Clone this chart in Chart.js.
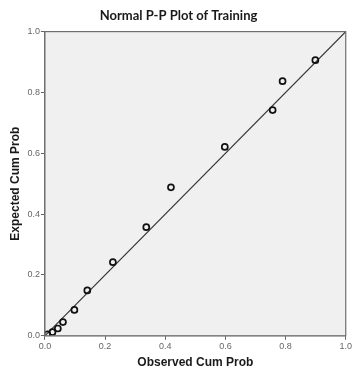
<!DOCTYPE html>
<html>
<head>
<meta charset="utf-8">
<script src="https://cdn.jsdelivr.net/npm/chart.js@4/dist/chart.umd.min.js"></script>
<style>
  html, body { margin: 0; padding: 0; background: #ffffff; }
  #wrap { width: 353px; height: 371px; position: relative; }
</style>
</head>
<body>
<div id="wrap"><canvas id="pp"></canvas></div>
<script>
// Observed vs expected cumulative probabilities
const observedCumProb = [0.008, 0.025, 0.043, 0.060, 0.098, 0.141, 0.226, 0.337, 0.419, 0.598, 0.757, 0.790, 0.899];
const expectedCumProb = [0.005, 0.012, 0.024, 0.045, 0.085, 0.149, 0.242, 0.357, 0.488, 0.621, 0.742, 0.837, 0.906];
// Reference diagonal
const diagonalX = [0, 1];
const diagonalY = [0, 1];
const tickValues = [0, 0.2, 0.4, 0.6, 0.8, 1.0];

const points = observedCumProb.map((x, i) => ({ x: x, y: expectedCumProb[i] }));
const diagonal = diagonalX.map((x, i) => ({ x: x, y: diagonalY[i] }));

// Gray plot panel with a frame on all four sides
const panel = {
  id: 'panel',
  beforeDatasetsDraw(chart) {
    const { ctx, chartArea: a } = chart;
    ctx.save();
    ctx.fillStyle = '#f0f0f0';
    ctx.fillRect(a.left, a.top, a.right - a.left, a.bottom - a.top);
    ctx.restore();
  },
  afterDraw(chart) {
    const { ctx, chartArea: a } = chart;
    ctx.save();
    ctx.strokeStyle = '#6e6e6e';
    ctx.lineWidth = 1.2;
    ctx.strokeRect(a.left, a.top, a.right - a.left, a.bottom - a.top);
    ctx.restore();
  }
};

const tickFont = { family: 'Liberation Sans, Arial, sans-serif', size: 9 };
const titleFont = { family: 'Liberation Sans, Arial, sans-serif', size: 12, weight: 'bold' };

new Chart(document.getElementById('pp'), {
  type: 'scatter',
  data: {
    datasets: [
      {
        label: 'Diagonal',
        data: diagonal,
        showLine: true,
        borderColor: '#333333',
        borderWidth: 1.2,
        pointRadius: 0,
        order: 2
      },
      {
        label: 'Training',
        data: points,
        borderColor: '#111111',
        backgroundColor: 'rgba(0,0,0,0)',
        borderWidth: 1.7,
        pointRadius: 3,
        order: 1
      }
    ]
  },
  options: {
    responsive: true,
    maintainAspectRatio: false,
    animation: false,
    layout: { padding: { left: 8, right: 4, top: 4, bottom: 1 } },
    plugins: {
      legend: { display: false },
      tooltip: { enabled: false },
      title: {
        display: true,
        text: 'Normal P-P Plot of Training',
        color: '#1a1a1a',
        font: { family: 'Lato, sans-serif', size: 13, weight: 'bold' },
        padding: { top: 4, bottom: 8 }
      }
    },
    scales: {
      x: {
        type: 'linear',
        min: 0, max: 1,
        afterBuildTicks(scale) { scale.ticks = tickValues.map(v => ({ value: v })); },
        ticks: {
          color: '#666666',
          font: tickFont,
          padding: 1,
          maxRotation: 0,
          callback: v => Number(v).toFixed(1)
        },
        grid: { drawOnChartArea: false, drawTicks: true, tickLength: 4, color: '#666666', lineWidth: 1 },
        border: { display: true, color: '#666666', width: 1.2 },
        title: { display: true, text: 'Observed Cum Prob', color: '#1a1a1a', font: titleFont, padding: { top: 3, bottom: 0 } }
      },
      y: {
        type: 'linear',
        min: 0, max: 1,
        afterBuildTicks(scale) { scale.ticks = tickValues.map(v => ({ value: v })); },
        ticks: {
          color: '#666666',
          font: tickFont,
          padding: 1,
          callback: v => Number(v).toFixed(1)
        },
        grid: { drawOnChartArea: false, drawTicks: true, tickLength: 4, color: '#666666', lineWidth: 1 },
        border: { display: true, color: '#666666', width: 1.2 },
        title: { display: true, text: 'Expected Cum Prob', color: '#1a1a1a', font: titleFont, padding: { top: 0, bottom: 4 } }
      }
    }
  },
  plugins: [panel]
});
</script>
</body>
</html>
